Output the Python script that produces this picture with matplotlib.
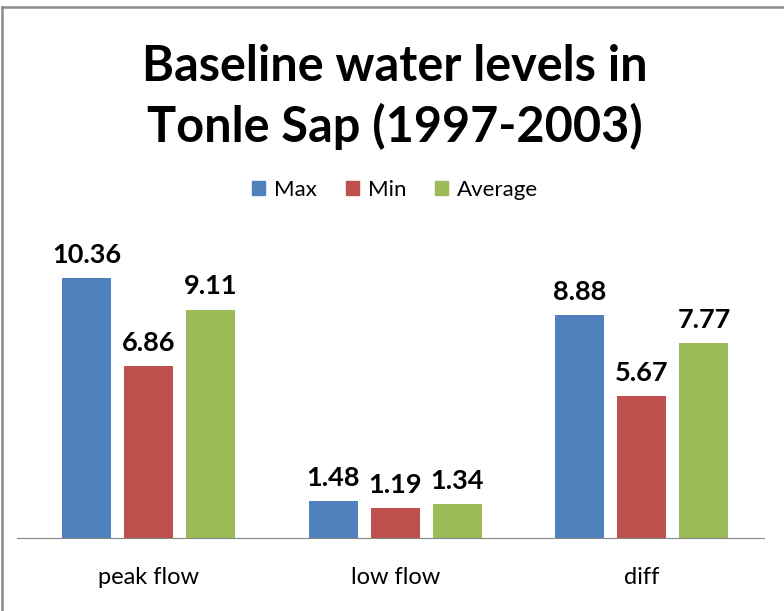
import numpy as np
import matplotlib.pyplot as plt
from matplotlib.patches import Patch
from matplotlib.lines import Line2D

categories = ["peak flow", "low flow", "diff"]
series = ["Max", "Min", "Average"]
max_vals = [10.36, 1.48, 8.88]
min_vals = [6.86, 1.19, 5.67]
avg_vals = [9.11, 1.34, 7.77]
colors = ["#4F81BD", "#C0504D", "#9BBB59"]

plt.rcParams['font.family'] = ['Lato', 'DejaVu Sans']

fig = plt.figure(figsize=(7.84, 6.11), dpi=100)
ax = fig.add_axes([17/784, 73/611, 747/784, 275.8/611])

x = np.arange(len(categories))
width = 0.199
step = 0.2515
for i, (vals, name) in enumerate(zip([max_vals, min_vals, avg_vals], series)):
    bars = ax.bar(x + (i - 1) * step, vals, width, color=colors[i], label=name)
    for b, v in zip(bars, vals):
        ax.annotate(f"{v:.2f}", (b.get_x() + b.get_width() / 2, v),
                    xytext=(0, 8), textcoords="offset points",
                    ha="center", va="bottom", fontsize=19.5, fontweight="bold")

ax.set_xlim(-0.535, 2.495)
ax.set_ylim(0, 11)
ax.set_xticks(x)
ax.set_xticklabels(categories, fontsize=17)
ax.tick_params(axis="x", length=0, pad=21)
ax.set_yticks([])
for s in ["left", "right", "top"]:
    ax.spines[s].set_visible(False)
ax.spines["bottom"].set_color("#868686")
ax.set_facecolor("none")

handles = [Patch(color=c, label=s) for c, s in zip(colors, series)]
fig.legend(handles=handles, loc="center", bbox_to_anchor=(395/784, 1 - 190/611),
           ncol=3, frameon=False, fontsize=16, handlelength=0.6, handleheight=0.6,
           handletextpad=0.4, columnspacing=1.3)

fig.text(395/784, 1 - 97/611, "Baseline water levels in\nTonle Sap (1997-2003)",
         ha="center", va="center", fontsize=35, fontweight="bold", linespacing=1.35)

# chart border
fig.add_artist(Line2D([2/784, 2/784], [0, 1 - 7/611], color="#8A8A8A", lw=1.8))
fig.add_artist(Line2D([2/784, 1], [1 - 7/611, 1 - 7/611], color="#8A8A8A", lw=1.8))

fig.savefig("out.png", dpi=100)
